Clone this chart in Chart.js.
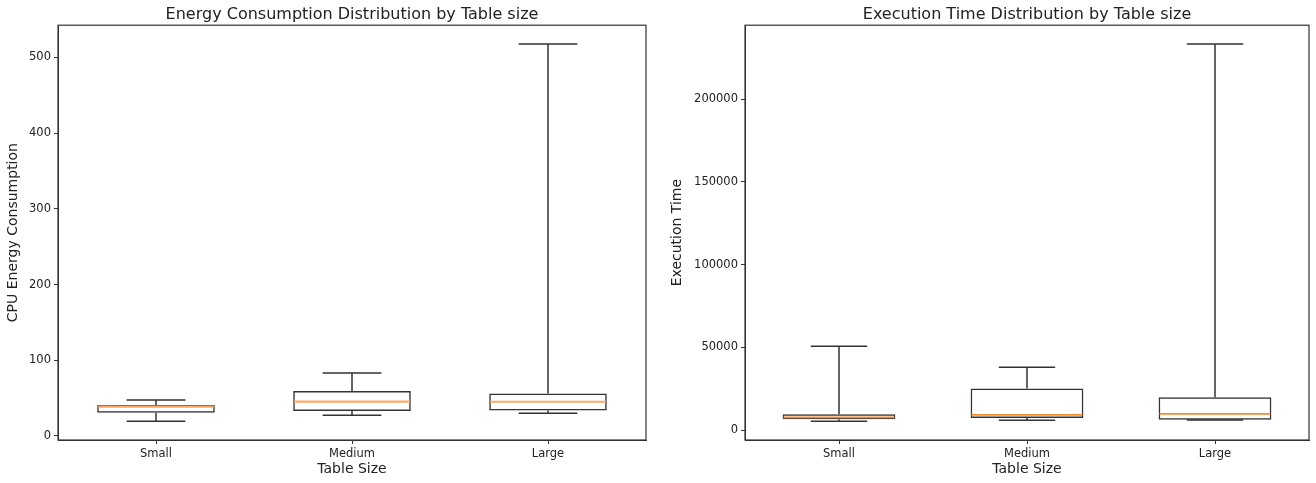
<!DOCTYPE html>
<html>
<head>
<meta charset="utf-8">
<script src="https://cdn.jsdelivr.net/npm/chart.js@4.4.1/dist/chart.umd.min.js"></script>
<style>
  body { margin: 0; background: #fff; overflow: hidden; }
  canvas { position: absolute; top: 0; }
  #energy { left: 0; }
  #time { left: 660px; }
</style>
</head>
<body>
<canvas id="energy" width="658" height="483"></canvas>
<canvas id="time" width="656" height="483"></canvas>
<script>
var sizes = ['Small', 'Medium', 'Large'];

// CPU energy: whisker low, Q1, median, Q3, whisker high
var energyMin = [19.6, 27.5, 30.0];
var energyQ1 = [30.6, 32.9, 33.8];
var energyMedian = [38.8, 45.4, 45.2];
var energyQ3 = [40.8, 59.3, 56.0];
var energyMax = [47.6, 83.3, 517.6];

// execution time, same order
var timeMin = [5500, 6000, 6200];
var timeQ1 = [6600, 7400, 6400];
var timeMedian = [7800, 9300, 9900];
var timeQ3 = [9600, 25200, 20000];
var timeMax = [50700, 38100, 233300];

var tickColor = '#222';
var edgeColor = '#333';

// whiskers, caps and median line on top of the floating bars
var boxParts = {
  id: 'boxParts',
  afterDatasetsDraw: function(chart, args, opts) {
    var ctx = chart.ctx;
    var ys = chart.scales.y;
    var meta = chart.getDatasetMeta(0);
    ctx.save();
    meta.data.forEach(function(bar, i) {
      var x = bar.x;
      var half = bar.width / 2;
      var cap = half / 2;
      var yMin = ys.getPixelForValue(opts.min[i]);
      var yQ1 = ys.getPixelForValue(opts.q1[i]);
      var yQ3 = ys.getPixelForValue(opts.q3[i]);
      var yMax = ys.getPixelForValue(opts.max[i]);
      var yMed = ys.getPixelForValue(opts.median[i]);

      ctx.strokeStyle = edgeColor;
      ctx.lineWidth = 1.5;
      ctx.beginPath();
      ctx.moveTo(x, yQ3); ctx.lineTo(x, yMax);
      ctx.moveTo(x, yQ1); ctx.lineTo(x, yMin);
      ctx.moveTo(x - cap, yMax); ctx.lineTo(x + cap, yMax);
      ctx.moveTo(x - cap, yMin); ctx.lineTo(x + cap, yMin);
      ctx.stroke();

      ctx.strokeStyle = opts.medianColor;
      ctx.lineWidth = opts.medianWidth;
      ctx.beginPath();
      ctx.moveTo(x - half + 1, yMed); ctx.lineTo(x + half - 1, yMed);
      ctx.stroke();
    });
    ctx.restore();
  }
};

// box around the plot area
var frame = {
  id: 'frame',
  afterDraw: function(chart) {
    var a = chart.chartArea;
    var ctx = chart.ctx;
    ctx.save();
    ctx.strokeStyle = edgeColor;
    ctx.lineWidth = 1.2;
    ctx.strokeRect(a.left, a.top, a.right - a.left, a.bottom - a.top);
    ctx.restore();
  }
};

function makeBoxChart(id, cfg) {
  var lo = Math.min.apply(null, cfg.min);
  var hi = Math.max.apply(null, cfg.max);
  var pad = (hi - lo) * 0.05;
  var ranges = cfg.q1.map(function(v, i) { return [v, cfg.q3[i]]; });

  return new Chart(document.getElementById(id), {
    type: 'bar',
    data: {
      labels: sizes,
      datasets: [{
        data: ranges,
        backgroundColor: 'rgba(0,0,0,0)',
        borderColor: edgeColor,
        borderWidth: 1.5,
        borderSkipped: false,
        barPercentage: 0.6,
        categoryPercentage: 1.0
      }]
    },
    options: {
      responsive: false,
      animation: false,
      events: [],
      layout: { padding: { left: 0, right: cfg.padRight, top: 0, bottom: 0 } },
      plugins: {
        legend: { display: false },
        tooltip: { enabled: false },
        title: {
          display: true,
          text: cfg.title,
          fullSize: false,
          color: '#222',
          font: { family: 'DejaVu Sans', size: 16, weight: 'normal' },
          padding: { top: 5, bottom: 1 }
        },
        boxParts: {
          min: cfg.min, q1: cfg.q1, median: cfg.median, q3: cfg.q3, max: cfg.max,
          medianColor: cfg.medianColor, medianWidth: cfg.medianWidth
        }
      },
      scales: {
        x: {
          afterFit: function(s) { s.height = 43; },
          grid: { display: true, drawOnChartArea: false, drawTicks: true, tickLength: 4, offset: false, color: edgeColor },
          border: { display: true, color: edgeColor },
          ticks: { color: tickColor, padding: 3, font: { family: 'DejaVu Sans', size: 11.5 } },
          title: {
            display: true,
            text: 'Table Size',
            color: '#222',
            font: { family: 'DejaVu Sans', size: 14 },
            padding: { top: 0, bottom: 5 }
          }
        },
        y: {
          min: lo - pad,
          max: hi + pad,
          afterFit: function(s) { s.width = cfg.axisWidth; },
          // ticks on whole multiples of the step only
          afterBuildTicks: function(s) {
            var t = [];
            for (var v = Math.ceil(s.min / cfg.step) * cfg.step; v <= s.max; v += cfg.step) {
              t.push({ value: v });
            }
            s.ticks = t;
          },
          grid: { display: true, drawOnChartArea: false, drawTicks: true, tickLength: 4, color: edgeColor },
          border: { display: true, color: edgeColor },
          ticks: {
            color: tickColor,
            padding: 3,
            font: { family: 'DejaVu Sans', size: 11.5 },
            callback: function(v) { return String(v); }
          },
          title: {
            display: true,
            text: cfg.yTitle,
            color: '#222',
            font: { family: 'DejaVu Sans', size: 14 },
            padding: { top: cfg.titlePad, bottom: 0 }
          }
        }
      }
    },
    plugins: [boxParts, frame]
  });
}

makeBoxChart('energy', {
  title: 'Energy Consumption Distribution by Table size',
  yTitle: 'CPU Energy Consumption',
  min: energyMin, q1: energyQ1, median: energyMedian, q3: energyQ3, max: energyMax,
  step: 100, axisWidth: 58, padRight: 12, titlePad: 5,
  medianColor: '#ffa766', medianWidth: 2.2
});

makeBoxChart('time', {
  title: 'Execution Time Distribution by Table size',
  yTitle: 'Execution Time',
  min: timeMin, q1: timeQ1, median: timeMedian, q3: timeQ3, max: timeMax,
  step: 50000, axisWidth: 85, padRight: 7, titlePad: 9,
  medianColor: '#ff8a2a', medianWidth: 1.6
});
</script>
</body>
</html>
